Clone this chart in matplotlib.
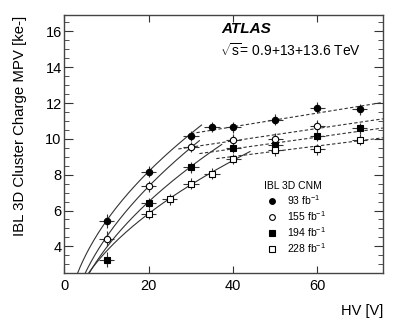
import numpy as np
import matplotlib
matplotlib.use("Agg")
from matplotlib import pyplot as plt
from matplotlib.ticker import MultipleLocator

plt.rcParams['font.family'] = ['Liberation Sans', 'DejaVu Sans']
plt.rcParams['mathtext.fontset'] = 'custom'
plt.rcParams['mathtext.rm'] = 'Liberation Sans'

# measured points (HV [V], MPV [ke-])
hv93 = [10, 20, 30, 35, 40, 50, 60, 70]
q93 = [5.42, 8.17, 10.16, 10.67, 10.64, 11.08, 11.75, 11.65]
hv155 = [10, 20, 30, 40, 50, 60]
q155 = [4.43, 7.35, 9.54, 9.95, 10.02, 10.74]
hv194 = [10, 20, 30, 40, 50, 60, 70]
q194 = [3.26, 6.42, 8.42, 9.50, 9.68, 10.18, 10.59]
hv228 = [20, 25, 30, 35, 40, 50, 60, 70]
q228 = [5.82, 6.63, 7.49, 8.06, 8.88, 9.37, 9.42, 9.96]

labels = ['93 fb$^{-1}$', '155 fb$^{-1}$', '194 fb$^{-1}$', '228 fb$^{-1}$']

# fits: low HV  q = a*sqrt(HV) + b,  high HV  q = m*HV + c
sqrt_a = [2.10, 2.15, 1.95, 1.60]
sqrt_b = [-1.20, -2.26, -2.22, -1.32]
sqrt_end = [32.5, 32.0, 37.3, 44.0]
lin_m = [0.0382, 0.0347, 0.0328, 0.0294]
lin_c = [9.15, 8.50, 8.13, 7.84]
lin_start = [30.0, 27.0, 32.0, 36.0]

fig = plt.figure(figsize=(4.03, 3.26), dpi=100)
ax = fig.add_axes([0.160, 0.162, 0.790, 0.791])

xmax = 75.5
ymin, ymax = 2.5, 16.9

for i in range(4):
    x = np.linspace(0.5, sqrt_end[i], 200)
    ax.plot(x, sqrt_a[i] * np.sqrt(x) + sqrt_b[i], color='#333333', lw=0.8, zorder=2)
    x = np.linspace(lin_start[i], xmax, 50)
    ax.plot(x, lin_m[i] * x + lin_c[i], color='#333333', lw=0.8,
            dashes=(3, 2), zorder=2)

series = [(hv93, q93, 'o', 'black'), (hv155, q155, 'o', 'white'),
          (hv194, q194, 's', 'black'), (hv228, q228, 's', 'white')]
for (hv, q, m, fc), lab in zip(series, labels):
    yerr = [0.4 if h == 10 else 0.3 for h in hv]
    ax.errorbar(hv, q, xerr=1.8, yerr=yerr, fmt='none', ecolor='#333333',
                elinewidth=0.8, capsize=0, zorder=3)
    ax.plot(hv, q, m, ms=4.6 if m == 'o' else 4.4, mfc=fc, mec='black',
            mew=0.8, ls='none', label=lab, zorder=4)

ax.set_xlim(0, xmax)
ax.set_ylim(ymin, ymax)
ax.xaxis.set_major_locator(MultipleLocator(20))
ax.yaxis.set_major_locator(MultipleLocator(2))
ax.yaxis.set_minor_locator(MultipleLocator(0.5))
ax.tick_params(which='both', direction='in', top=True, right=True,
               labelsize=10.5, color='#333333')
ax.tick_params(axis='x', which='major', length=5, pad=4)
ax.tick_params(axis='y', which='major', length=6.5, pad=2)
ax.tick_params(which='minor', length=3.5)
for s in ax.spines.values():
    s.set_color('#444444')
    s.set_linewidth(1.0)

ax.set_xlabel('HV [V]', fontsize=10.5, ha='right', x=1.0)
ax.set_ylabel('IBL 3D Cluster Charge MPV [ke-]', fontsize=10.8, ha='right', y=1.0)
ax.xaxis.set_label_coords(1.0, -0.12)
ax.yaxis.set_label_coords(-0.118, 1.0)

ax.text(0.494, 0.930, 'ATLAS', transform=ax.transAxes, fontsize=11,
        fontweight='bold', fontstyle='italic')
ax.text(0.487, 0.842, '$\\sqrt{\\mathrm{s}}$= 0.9+13+13.6 TeV',
        transform=ax.transAxes, fontsize=10)

leg = ax.legend(title='IBL 3D CNM', loc='upper left',
                bbox_to_anchor=(0.603, 0.385), frameon=False, fontsize=7.5,
                title_fontsize=7.5, handlelength=1.6, handletextpad=0.6,
                labelspacing=0.2, alignment='left', borderpad=0.2,
                markerscale=0.9)

fig.savefig('out.png', dpi=100)
